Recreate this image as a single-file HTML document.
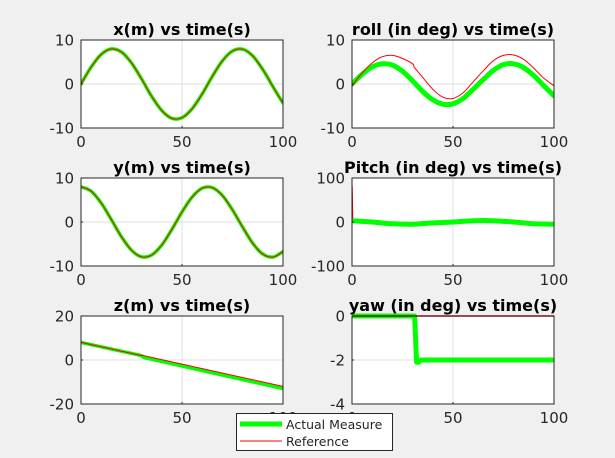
<!DOCTYPE html>
<html><head><meta charset="utf-8"><style>
body{margin:0;background:#f0f0f0;}
svg{display:block;font-family:"DejaVu Sans","Liberation Sans",sans-serif;}
</style></head><body>
<svg id="fig" width="615" height="458" viewBox="0 0 615 458" xmlns="http://www.w3.org/2000/svg">
<rect width="615" height="458" fill="#f0f0f0"/>
<g id="plots"></g>
<g>
<rect x="236.5" y="413.5" width="156" height="37" fill="#fff" stroke="#262626" stroke-width="1"/>
<line x1="240" y1="424" x2="282" y2="424" stroke="#00ff00" stroke-width="5"/>
<text x="286" y="429" font-size="12.5" fill="#262626">Actual Measure</text>
<line x1="240" y1="441" x2="282" y2="441" stroke="#ff0000" stroke-width="1"/>
<text x="286" y="446" font-size="12.5" fill="#262626">Reference</text>
</g>
</svg>
<script>
const tX=[0,5,10,15,20,25,30,35,40,45,50,55,60,65,70,75,80,85,90,95,100];
const xAct=[0,3.84,6.73,7.98,7.27,4.79,1.13,-2.81,-6.05,-7.82,-7.67,-5.64,-2.24,1.72,5.26,7.50,7.91,6.39,3.30,-0.60,-4.35];
const xRef=[0,3.84,6.73,7.98,7.27,4.79,1.13,-2.81,-6.05,-7.82,-7.67,-5.64,-2.24,1.72,5.26,7.50,7.91,6.39,3.30,-0.60,-4.35];
const yAct=[8,7.02,4.32,0.57,-3.33,-6.41,-7.92,-7.49,-5.23,-1.69,2.27,5.67,7.68,7.81,6.03,2.75,-1.16,-4.82,-7.29,-7.98,-6.71];
const yRef=[8,7.02,4.32,0.57,-3.33,-6.41,-7.92,-7.49,-5.23,-1.69,2.27,5.67,7.68,7.81,6.03,2.75,-1.16,-4.82,-7.29,-7.98,-6.71];
const tZ=[0,30,31,100];
const zAct=[8,2,1.2,-13];
const zRef=[8,2,2,-12];
const tRollRef=[0,0.3,5,10,15,20,25,30,31,35,40,45,50,55,60,65,70,75,80,85,90,95,100];
const rollRef=[-1,-0.3,2.5,4.8,6.2,6.5,5.8,4.6,3.7,1.5,-1.2,-3.0,-3.3,-2.0,0.5,3.0,5.3,6.5,6.6,5.6,3.6,1.3,-0.4];
const rollAct=[0,2.2,3.9,4.6,4.3,2.9,0.7,-1.7,-3.6,-4.6,-4.5,-3.3,-1.2,1.0,3.1,4.4,4.6,3.7,1.9,-0.4,-2.7];
const tP=[0,10,20,30,40,50,60,70,80,90,100];
const pitchAct=[3,0,-4,-5,-2,0,3,3,0,-4,-5];
const tPRef=[0,0.3,10,20,30,40,50,60,70,80,90,100];
const pitchRef=[80,3,0,-4,-5,-2,0,3,3,0,-4,-5];
const tYaw=[0,31,32,33,34,100];
const yawAct=[0,0,-2.1,-2.1,-2,-2];
const tYawRef=[0,100];
const yawRef=[0,0];
const xTicks=[0,50,100];

const NS="http://www.w3.org/2000/svg";
const root=document.getElementById('plots');
function mk(tag,attrs,parent){const e=document.createElementNS(NS,tag);for(const k in attrs)e.setAttribute(k,attrs[k]);parent.appendChild(e);return e;}
function pathD(P,smooth){
  let d='M'+P[0][0].toFixed(1)+','+P[0][1].toFixed(1);
  for(let i=0;i<P.length-1;i++){
    const p0=P[Math.max(0,i-1)],p1=P[i],p2=P[i+1],p3=P[Math.min(P.length-1,i+2)];
    if(!smooth){d+='L'+p2[0].toFixed(1)+','+p2[1].toFixed(1);continue;}
    const c1=[p1[0]+(p2[0]-p0[0])/6,p1[1]+(p2[1]-p0[1])/6];
    const c2=[p2[0]-(p3[0]-p1[0])/6,p2[1]-(p3[1]-p1[1])/6];
    d+='C'+c1.map(v=>v.toFixed(1)).join(',')+' '+c2.map(v=>v.toFixed(1)).join(',')+' '+p2[0].toFixed(1)+','+p2[1].toFixed(1);
  }
  return d;
}
function panel(name,title,L,T,yMin,yMax,yTicks,series){
  const W=202,H=88;
  const g=mk('g',{},root);
  
  
  const sx=v=>L+v/100*W, sy=v=>T+H-(v-yMin)/(yMax-yMin)*H;
  mk('rect',{x:L,y:T,width:W,height:H,fill:'#fff'},g);
  xTicks.forEach(v=>{if(v>0&&v<100)mk('line',{x1:sx(v),y1:T,x2:sx(v),y2:T+H,stroke:'#dfdfdf','stroke-width':1},g);});
  yTicks.forEach(v=>{if(v>yMin&&v<yMax)mk('line',{x1:L,y1:sy(v),x2:L+W,y2:sy(v),stroke:'#dfdfdf','stroke-width':1},g);});
  const cl='c'+name;
  const cp=mk('clipPath',{id:cl},g);mk('rect',{x:L,y:T-3,width:W,height:H+6},cp);
  series.forEach(s=>{
    const P=s.t.map((t,i)=>[sx(t),sy(s.v[i])]);
    const p=mk('path',{d:pathD(P,s.s),fill:'none',stroke:s.c,'stroke-width':s.w,'stroke-linejoin':'round','stroke-linecap':'round','clip-path':'url(#'+cl+')'},g);
    
    
  });
  mk('rect',{x:L,y:T,width:W,height:H,fill:'none',stroke:'#262626','stroke-width':1},g);
  xTicks.forEach(v=>{
    mk('line',{x1:sx(v),y1:T+H,x2:sx(v),y2:T+H-2,stroke:'#262626'},g);
    const t=mk('text',{x:sx(v),y:T+H+19,'text-anchor':'middle','font-size':15,fill:'#262626'},g);t.textContent=v;
    
    
  });
  yTicks.forEach(v=>{
    mk('line',{x1:L,y1:sy(v),x2:L+2,y2:sy(v),stroke:'#262626'},g);
    const t=mk('text',{x:L-7,y:sy(v)+5.5,'text-anchor':'end','font-size':15,fill:'#262626'},g);t.textContent=v;
    
    
  });
  const tt=mk('text',{x:L+W/2,y:T-5,'text-anchor':'middle','font-size':16,'font-weight':'bold',fill:'#000'},g);tt.textContent=title;
  
  
}
const G='#00ff00',R='#ff0000';
panel('x-panel','x(m) vs time(s)',81,40,-10,10,[-10,0,10],[{t:tX,v:xAct,c:G,w:3.5,n:'x-actual',s:1},{t:tX,v:xRef,c:R,w:1,n:'x-reference',s:1}]);
panel('roll-panel','roll (in deg) vs time(s)',352,40,-10,10,[-10,0,10],[{t:tX,v:rollAct,c:G,w:5,n:'roll-actual',s:1},{t:tRollRef,v:rollRef,c:R,w:1,n:'roll-reference',s:1}]);
panel('y-panel','y(m) vs time(s)',81,178,-10,10,[-10,0,10],[{t:tX,v:yAct,c:G,w:3.5,n:'y-actual',s:1},{t:tX,v:yRef,c:R,w:1,n:'y-reference',s:1}]);
panel('pitch-panel','Pitch (in deg) vs time(s)',352,178,-100,100,[-100,0,100],[{t:tPRef,v:pitchRef,c:R,w:1.5,n:'pitch-reference',s:0},{t:tP,v:pitchAct,c:G,w:5,n:'pitch-actual',s:1}]);
panel('z-panel','z(m) vs time(s)',81,316,-20,20,[-20,0,20],[{t:tZ,v:zAct,c:G,w:3.5,n:'z-actual',s:0},{t:tZ,v:zRef,c:R,w:1,n:'z-reference',s:0}]);
panel('yaw-panel','yaw (in deg) vs time(s)',352,316,-4,0,[-4,-2,0],[{t:tYaw,v:yawAct,c:G,w:5,n:'yaw-actual',s:0},{t:tYawRef,v:yawRef,c:R,w:1.5,n:'yaw-reference',s:0}]);
</script>
</body></html>
